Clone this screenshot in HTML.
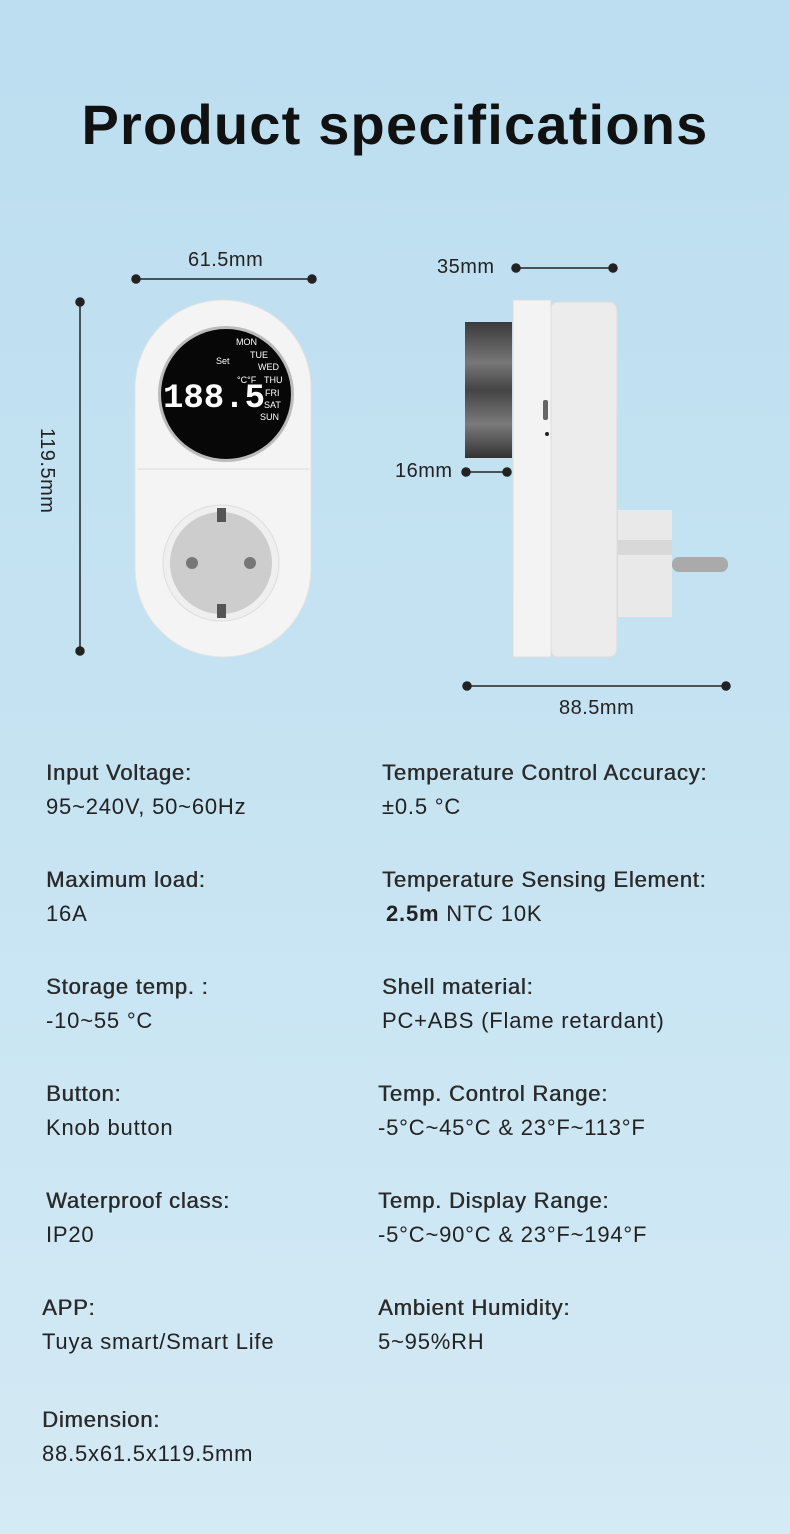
<!DOCTYPE html>
<html><head><meta charset="utf-8"><style>
*{margin:0;padding:0;box-sizing:border-box}
body{width:790px;height:1534px;overflow:hidden;font-family:"Liberation Sans",sans-serif;background:linear-gradient(180deg,#bcdef0 0%,#c6e3f2 50%,#d4eaf5 100%);position:relative;color:#222}
.t{position:absolute;left:0;width:790px;text-align:center;top:92px;font-size:56px;font-weight:bold;color:#111;letter-spacing:1.2px}
.l{position:absolute;font-size:22px;color:#222;white-space:nowrap;letter-spacing:0.8px}
.h{font-weight:normal;color:#2a2a2a;text-shadow:0.5px 0 0 #2a2a2a;letter-spacing:0.8px}
.dim{position:absolute;font-size:20px;color:#222;letter-spacing:0.5px}
</style></head><body>
<div class="t">Product specifications</div>
<svg width="790" height="740" style="position:absolute;left:0;top:0">
<defs>
<linearGradient id="knob" x1="0" y1="0" x2="0" y2="1"><stop offset="0" stop-color="#3a3a3a"/><stop offset=".3" stop-color="#777"/><stop offset=".5" stop-color="#444"/><stop offset=".75" stop-color="#7a7a7a"/><stop offset="1" stop-color="#333"/></linearGradient>
</defs>
<g stroke="#222" stroke-width="1.5" fill="#222">
<line x1="136" y1="279" x2="312" y2="279"/><circle cx="136" cy="279" r="4"/><circle cx="312" cy="279" r="4"/>
<line x1="80" y1="302" x2="80" y2="651"/><circle cx="80" cy="302" r="4"/><circle cx="80" cy="651" r="4"/>
<line x1="516" y1="268" x2="613" y2="268"/><circle cx="516" cy="268" r="4"/><circle cx="613" cy="268" r="4"/>
<line x1="466" y1="472" x2="507" y2="472"/><circle cx="466" cy="472" r="4"/><circle cx="507" cy="472" r="4"/>
<line x1="467" y1="686" x2="726" y2="686"/><circle cx="467" cy="686" r="4"/><circle cx="726" cy="686" r="4"/>
</g>
<rect x="135" y="300" width="176" height="357" rx="88" fill="#f4f4f4" stroke="#e2e2e2"/>
<line x1="137" y1="469" x2="309" y2="469" stroke="#ddd"/>
<circle cx="226" cy="394" r="68" fill="#bbb"/>
<circle cx="226" cy="394" r="65" fill="#070707"/>
<text x="214" y="407" text-anchor="middle" font-size="34" fill="#fff" font-family="Liberation Mono" font-weight="bold">188.5</text>
<text x="236" y="345" font-size="9" fill="#fff">MON</text>
<text x="250" y="358" font-size="9" fill="#fff">TUE</text>
<text x="258" y="370" font-size="9" fill="#fff">WED</text>
<text x="264" y="383" font-size="9" fill="#fff">THU</text>
<text x="265" y="396" font-size="9" fill="#fff">FRI</text>
<text x="264" y="408" font-size="9" fill="#fff">SAT</text>
<text x="260" y="420" font-size="9" fill="#fff">SUN</text>
<text x="216" y="364" font-size="9" fill="#fff">Set</text>
<text x="237" y="383" font-size="9" fill="#fff">°C°F</text>
<circle cx="221" cy="563" r="58" fill="#efefef" stroke="#ddd"/>
<circle cx="221" cy="563" r="51" fill="#cdcdcd"/>
<circle cx="192" cy="563" r="6" fill="#777"/><circle cx="250" cy="563" r="6" fill="#777"/>
<rect x="217" y="508" width="9" height="14" fill="#555"/><rect x="217" y="604" width="9" height="14" fill="#555"/>
<rect x="465" y="322" width="47" height="136" fill="url(#knob)"/>
<rect x="550" y="302" width="67" height="355" rx="8" fill="#ececec" stroke="#ddd"/>
<rect x="513" y="300" width="38" height="357" fill="#f3f3f3" stroke="#ddd"/>
<rect x="543" y="400" width="5" height="20" rx="2" fill="#666"/><circle cx="547" cy="434" r="2" fill="#222"/>
<rect x="618" y="510" width="54" height="107" fill="#e9e9e9"/>
<rect x="618" y="540" width="54" height="15" fill="#d8d8d8"/>
<rect x="672" y="557" width="56" height="15" rx="7" fill="#aaa"/>
</svg>
<div class="dim" style="left:188px;top:249px">61.5mm</div>
<div class="dim" style="top:428px;transform:rotate(90deg);transform-origin:left top;left:58px">119.5mm</div>
<div class="dim" style="left:437px;top:256px">35mm</div>
<div class="dim" style="left:395px;top:460px">16mm</div>
<div class="dim" style="left:559px;top:697px">88.5mm</div>

<div class="l h" style="left:46px;top:760px">Input Voltage:</div>
<div class="l" style="left:46px;top:794px">95~240V, 50~60Hz</div>
<div class="l h" style="left:46px;top:867px">Maximum load:</div>
<div class="l" style="left:46px;top:901px">16A</div>
<div class="l h" style="left:46px;top:974px">Storage temp. :</div>
<div class="l" style="left:46px;top:1008px">-10~55 °C</div>
<div class="l h" style="left:46px;top:1081px">Button:</div>
<div class="l" style="left:46px;top:1115px">Knob button</div>
<div class="l h" style="left:46px;top:1188px">Waterproof class:</div>
<div class="l" style="left:46px;top:1222px">IP20</div>
<div class="l h" style="left:42px;top:1295px">APP:</div>
<div class="l" style="left:42px;top:1329px">Tuya smart/Smart Life</div>
<div class="l h" style="left:42px;top:1407px">Dimension:</div>
<div class="l" style="left:42px;top:1441px">88.5x61.5x119.5mm</div>

<div class="l h" style="left:382px;top:760px">Temperature Control Accuracy:</div>
<div class="l" style="left:382px;top:794px">±0.5 °C</div>
<div class="l h" style="left:382px;top:867px">Temperature Sensing Element:</div>
<div class="l" style="left:386px;top:901px"><b>2.5m</b> NTC 10K</div>
<div class="l h" style="left:382px;top:974px">Shell material:</div>
<div class="l" style="left:382px;top:1008px">PC+ABS (Flame retardant)</div>
<div class="l h" style="left:378px;top:1081px">Temp. Control Range:</div>
<div class="l" style="left:378px;top:1115px">-5°C~45°C &amp; 23°F~113°F</div>
<div class="l h" style="left:378px;top:1188px">Temp. Display Range:</div>
<div class="l" style="left:378px;top:1222px">-5°C~90°C &amp; 23°F~194°F</div>
<div class="l h" style="left:378px;top:1295px">Ambient Humidity:</div>
<div class="l" style="left:378px;top:1329px">5~95%RH</div>
</body></html>
